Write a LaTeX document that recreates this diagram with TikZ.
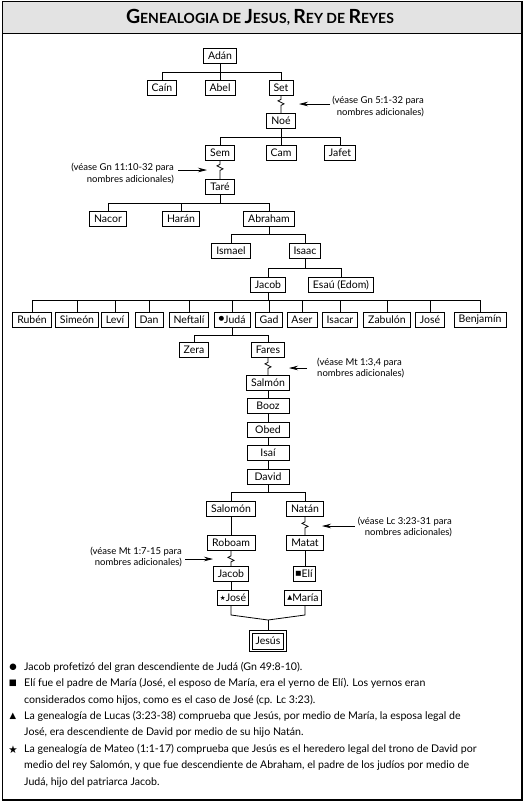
\documentclass[tikz,border=0pt]{standalone}
\usepackage{fontspec}
\setmainfont{Lato}
\newfontfamily\symfont{DejaVu Sans}
\usetikzlibrary{arrows.meta}
\newcommand\BigL[1]{{\fontsize{19.5}{19.5}\selectfont #1}}
\newcommand\mk[2]{\raisebox{#2}{\symfont\fontsize{6.5}{6.5}\selectfont #1}}
\begin{document}
\begin{tikzpicture}[x=1pt,y=-1pt,
  font=\fontsize{10.5}{12}\selectfont,
  person/.style={draw, line width=0.8pt, inner xsep=4.5pt, inner ysep=1.5pt, minimum height=15pt},
  colbox/.style={person, minimum width=42pt},
  link/.style={line width=0.8pt},
  note/.style={font=\fontsize{9.5}{11.5}\selectfont, inner sep=0pt},
  ref/.style={line width=0.7pt, -{Stealth[length=9pt,width=4.5pt]}},
  foot/.style={font=\fontsize{10.6}{12}\selectfont, anchor=west, inner sep=0pt},
  bul/.style={font=\symfont\fontsize{8.5}{9}\selectfont, inner sep=0pt}
]
\useasboundingbox (0,0) rectangle (527,806);
% frame and title band
\fill[white] (2.5,1.5) rectangle (522,800);
\fill[gray!22] (2.5,1.5) rectangle (522,33);
\draw[line width=1pt] (2.5,33) -- (522,33);
\draw[line width=1.6pt] (2.5,1.5) rectangle (522,800);
\node[font=\bfseries\fontsize{14}{14}\selectfont] (title) at (260,17.5)
  {\BigL{G}ENEALOGIA DE \BigL{J}ESUS, \BigL{R}EY DE \BigL{R}EYES};

% persons
\node[person] (adan) at (220,56) {Adán};
\node[person] (cain) at (162,88) {Caín};
\node[person] (abel) at (220,88) {Abel};
\node[person] (set) at (281,88) {Set};
\node[person] (noe) at (281,121) {Noé};
\node[person] (sem) at (220,153) {Sem};
\node[person] (cam) at (281,153) {Cam};
\node[person] (jafet) at (340,153) {Jafet};
\node[person] (tare) at (220,187) {Taré};
\node[person] (nacor) at (108,219) {Nacor};
\node[person] (haran) at (181,219) {Harán};
\node[person] (abraham) at (269,219) {Abraham};
\node[person] (ismael) at (231,251) {Ismael};
\node[person] (isaac) at (305,251) {Isaac};
\node[person] (jacob) at (268,285) {Jacob};
\node[person] (esau) at (341,285) {Esaú (Edom)};
\node[person] (ruben) at (32,319.5) {Rubén};
\node[person] (simeon) at (77,319.5) {Simeón};
\node[person] (levi) at (115,319.5) {Leví};
\node[person] (dan) at (149,319.5) {Dan};
\node[person] (neftali) at (189,319.5) {Neftalí};
\node[person] (juda) at (232,319.5) {\mk{●}{3pt}Judá};
\node[person] (gad) at (269,319.5) {Gad};
\node[person] (aser) at (302,319.5) {Aser};
\node[person] (isacar) at (340,319.5) {Isacar};
\node[person] (zabulon) at (387,319.5) {Zabulón};
\node[person] (josea) at (430,319.5) {José};
\node[person] (benjamin) at (480,319.5) {Benjamín};
\node[person] (zera) at (194,350) {Zera};
\node[person] (fares) at (268,350) {Fares};
\node[colbox] (salmon) at (268,383) {Salmón};
\node[colbox] (booz) at (268,406) {Booz};
\node[colbox] (obed) at (268,430) {Obed};
\node[colbox] (isai) at (268,453) {Isaí};
\node[colbox] (david) at (268,477) {David};
\node[person, minimum width=48pt] (salomon) at (231,509) {Salomón};
\node[person, minimum width=35pt] (natan) at (305,509) {Natán};
\node[person, minimum width=48pt] (roboam) at (231,543) {Roboam};
\node[person, minimum width=35pt] (matat) at (305,543) {Matat};
\node[person] (jacobb) at (231,574) {Jacob};
\node[person, inner xsep=2.5pt] (eli) at (304,574) {\mk{■}{2.5pt}Elí};
\node[person, inner xsep=2.5pt] (joseb) at (233,598) {\mk{★}{1.5pt}José};
\node[person, inner xsep=2.5pt] (maria) at (303,598) {\mk{▲}{2pt}María};
\node[draw, line width=0.6pt, inner xsep=3pt, inner ysep=1.5pt, minimum height=16pt] (jesus) at (268,641) {Jesús};
\draw[line width=1.3pt] ([shift={(-2.5,-2.5)}]jesus.north west) rectangle ([shift={(2.5,2.5)}]jesus.south east);

% bar levels
\coordinate (b1) at (0,72);
\coordinate (b2) at (0,137);
\coordinate (b3) at (0,203);
\coordinate (b4) at (0,234);
\coordinate (b5) at (0,268);
\coordinate (b6) at (0,300);
\coordinate (b7) at (0,335);
\coordinate (b8) at (0,492);
\coordinate (j1) at (0,615);
\coordinate (j2) at (0,620);

\begin{scope}[link]
\draw (adan.south) -- (abel.north);
\draw (cain.north) -- (cain |- b1) -- (set |- b1) -- (set.north);
\draw (set.south) -- ++(0,3.5) -- ++(-3,1.5) -- ++(6,3) -- ++(-3,1.5) -- (noe.north);
\draw (noe.south) -- (cam.north);
\draw (sem.north) -- (sem |- b2) -- (jafet |- b2) -- (jafet.north);
\draw (sem.south) -- ++(0,3.5) -- ++(-3,1.5) -- ++(6,3) -- ++(-3,1.5) -- (tare.north);
\draw (tare.south) -- (tare |- b3);
\draw (nacor.north) -- (nacor |- b3) -- (abraham |- b3) -- (abraham.north);
\draw (haran.north) -- (haran |- b3);
\draw (abraham.south) -- (abraham |- b4);
\draw (ismael.north) -- (ismael |- b4) -- (isaac |- b4) -- (isaac.north);
\draw (isaac.south) -- (isaac |- b5);
\draw (jacob.north) -- (jacob |- b5) -- (esau |- b5) -- (esau.north);
\draw (jacob.south) -- (jacob |- b6);
\draw (ruben.north) -- (ruben |- b6) -- (benjamin |- b6) -- (benjamin.north);
\foreach \s in {simeon,levi,dan,neftali,juda,gad,aser,isacar,zabulon,josea}
  \draw (\s.north) -- (\s |- b6);
\draw (juda.south) -- (juda |- b7);
\draw (zera.north) -- (zera |- b7) -- (fares |- b7) -- (fares.north);
\draw (fares.south) -- ++(0,4.5) -- ++(-3,1.5) -- ++(6,3) -- ++(-3,1.5) -- (salmon.north);
\draw (salmon.south) -- (booz.north);
\draw (booz.south) -- (obed.north);
\draw (obed.south) -- (isai.north);
\draw (isai.south) -- (david.north);
\draw (david.south) -- (david |- b8);
\draw (salomon.north) -- (salomon |- b8) -- (natan |- b8) -- (natan.north);
\draw (salomon.south) -- (roboam.north);
\draw (natan.south) -- ++(0,5) -- ++(-3,1.5) -- ++(6,3) -- ++(-3,1.5) -- (matat.north);
\draw (roboam.south) -- ++(0,5) -- ++(-3,1.5) -- ++(6,3) -- ++(-3,1.5) -- (jacobb.north);
\draw (matat.south) -- (matat.south |- eli.north);
\draw (jacobb.south) -- (jacobb.south |- joseb.north);
\draw (eli.south -| matat) -- (eli.south -| matat |- maria.north);
\draw (joseb.south -| jacobb) -- (jacobb |- j1) -- (jesus |- j2);
\draw (maria.south -| matat) -- (matat |- j1) -- (jesus |- j2);
\draw (jesus |- j2) -- ([yshift=2.5pt]jesus.north);
\end{scope}

% notes with arrows
\coordinate (k1) at (281,104);
\coordinate (k2) at (220,170);
\coordinate (k3) at (268,368);
\coordinate (k4) at (305,526);
\coordinate (k5) at (231,559);
\node[note, align=right, anchor=north east] (n1) at (424,96) {(véase Gn 5:1-32 para\\nombres adicionales)};
\node[note, align=right, anchor=east] (n2) at (174,173.5) {(véase Gn 11:10-32 para\\nombres adicionales)};
\node[note, align=left, anchor=west] (n3) at (317,368) {(véase Mt 1:3,4 para\\nombres adicionales)};
\node[note, align=right, anchor=east] (n4) at (452,527) {(véase Lc 3:23-31 para\\nombres adicionales)};
\node[note, align=right, anchor=east] (n5) at (182,557) {(véase Mt 1:7-15 para\\nombres adicionales)};
\draw[ref] ([xshift=-2pt]n1.west |- k1) -- ([xshift=18pt]k1);
\draw[ref] ([xshift=4pt]n2.east |- k2) -- ([xshift=-13pt]k2);
\draw[ref] ([xshift=-10pt]n3.west |- k3) -- ([xshift=21pt]k3);
\draw[ref] ([xshift=-3pt]n4.west |- k4) -- ([xshift=17pt]k4);
\draw[ref] ([xshift=3pt]n5.east |- k5) -- ([xshift=-18pt]k5);

% footnotes
\node[bul] (u1) at (13,667) {●};
\node[foot] (f1) at (24,667) {Jacob profetizó del gran descendiente de Judá (Gn 49:8-10).};
\node[bul] (u2) at (13,683.5) {■};
\node[foot] (f2) at (24,683.5) {Elí fue el padre de María (José, el esposo de María, era el yerno de Elí). Los yernos eran};
\node[foot] (f3) at (24,700) {considerados como hijos, como es el caso de José (cp. Lc 3:23).};
\node[bul] (u3) at (13,716.5) {▲};
\node[foot] (f4) at (24,716.5) {La genealogía de Lucas (3:23-38) comprueba que Jesús, por medio de María, la esposa legal de};
\node[foot] (f5) at (24,733) {José, era descendiente de David por medio de su hijo Natán.};
\node[bul, font=\symfont\fontsize{10.5}{11}\selectfont] (u4) at (13,749.5) {★};
\node[foot] (f6) at (24,749.5) {La genealogía de Mateo (1:1-17) comprueba que Jesús es el heredero legal del trono de David por};
\node[foot] (f7) at (24,766) {medio del rey Salomón, y que fue descendiente de Abraham, el padre de los judíos por medio de};
\node[foot] (f8) at (24,782.5) {Judá, hijo del patriarca Jacob.};
\end{tikzpicture}
\end{document}
